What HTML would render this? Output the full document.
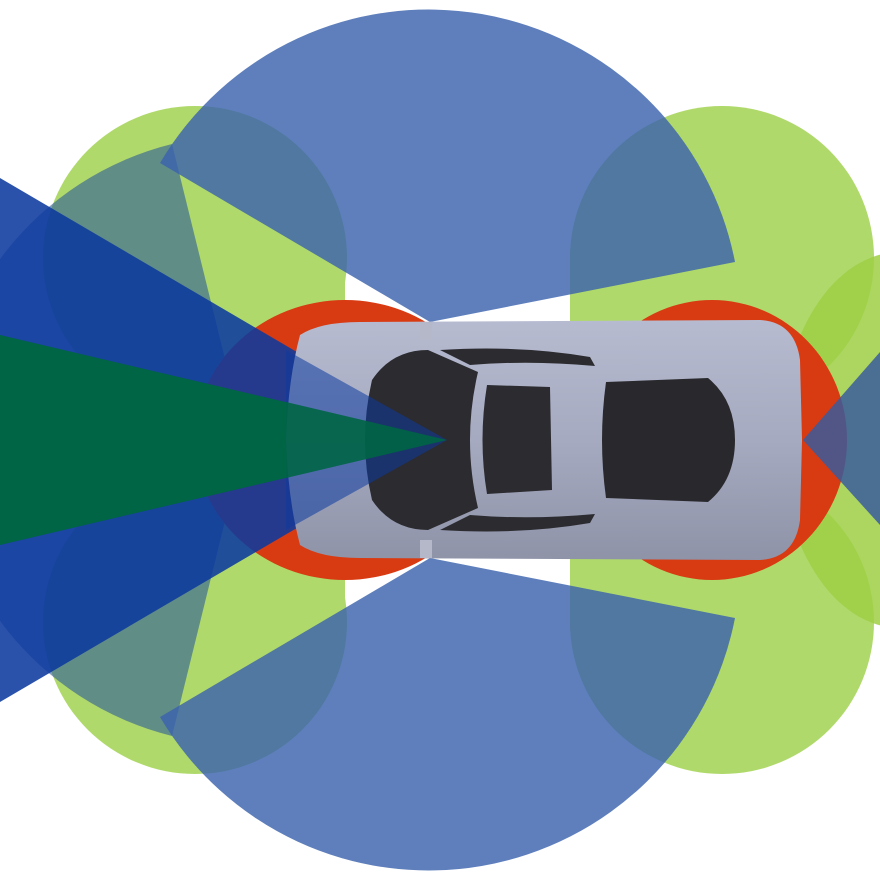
<!DOCTYPE html>
<html><head><meta charset="utf-8"><style>html,body{margin:0;padding:0;background:#fff}svg{display:block}</style></head>
<body>
<svg width="880" height="880" viewBox="0 0 880 880" xmlns="http://www.w3.org/2000/svg">
<defs>
<linearGradient id="car" x1="0" y1="0" x2="0" y2="1">
<stop offset="0" stop-color="#b7bbd0"/><stop offset="0.5" stop-color="#a6aac0"/><stop offset="1" stop-color="#8f93a8"/>
</linearGradient>
</defs>
<!-- green petals -->
<g fill="#b0d96b">
<circle cx="195" cy="258" r="152"/>
<rect x="180" y="250" width="165" height="190"/>
<circle cx="195" cy="622" r="152"/>
<rect x="180" y="440" width="165" height="190"/>
<circle cx="722" cy="258" r="152"/>
<rect x="570" y="250" width="230" height="190"/>
<circle cx="722" cy="622" r="152"/>
<rect x="570" y="440" width="230" height="190"/>
</g>
<g fill="#9fcf45" opacity="0.85">
<ellipse cx="900" cy="440" rx="120" ry="188"/>
</g>
<!-- left teal sector -->
<path d="M245,440 L172,144 A305,305 0 0 0 172,736 Z" fill="#2d5a9a" opacity="0.6"/>
<!-- big blue sectors -->
<g fill="#3b63ad" opacity="0.82">
<path d="M430,322 L160,163 A312,312 0 0 1 735,262 Z"/>
<path d="M430,558 L160,717 A312,312 0 0 0 735,618 Z"/>
</g>
<!-- red -->
<g fill="#d83a12">
<ellipse cx="345" cy="440" rx="150" ry="140"/>
<ellipse cx="712" cy="440" rx="135" ry="140"/>
</g>
<!-- right wedge -->
<path d="M803,440 L880,352 L880,525 Z" fill="#3a5c9c" opacity="0.85"/>
<!-- left wedges -->
<path d="M447,440 L0,178 L0,702 Z" fill="#0c3a9e" opacity="0.88"/>
<path d="M447,440 L0,335 L0,545 Z" fill="#006545"/>
<!-- car -->
<path d="M300,335 Q320,322 360,322 L760,320 Q795,322 800,360 L802,440 L800,520 Q795,558 760,560 L360,558 Q320,558 300,545 Q288,500 286,440 Q288,380 300,335 Z" fill="url(#car)"/>
<!-- windows -->
<path d="M372,380 Q392,350 428,350 L478,372 Q462,440 478,508 L428,530 Q392,530 372,500 Q358,440 372,380 Z" fill="#2b2b30"/>
<path d="M440,350 Q520,345 590,357 L595,366 Q530,360 470,365 Z" fill="#2b2b30"/>
<path d="M440,530 Q520,535 590,523 L595,514 Q530,520 470,515 Z" fill="#2b2b30"/>
<path d="M487,385 L550,387 L552,490 L487,494 Q478,440 487,385 Z" fill="#2b2b30"/>
<path d="M606,382 L708,378 Q735,400 735,440 Q735,480 708,502 L606,498 Q598,440 606,382 Z" fill="#29292d"/>
<g fill="#b4b8c9">
<rect x="420" y="322" width="12" height="18"/><rect x="420" y="540" width="12" height="18"/>
</g>
<!-- wedges over car front (semi) -->
<path d="M447,440 L286,350 L286,530 Z" fill="#0c3a9e" opacity="0.55"/>
<path d="M447,440 L286,402 L286,478 Z" fill="#006545" opacity="0.9"/>
</svg>
</body></html>
